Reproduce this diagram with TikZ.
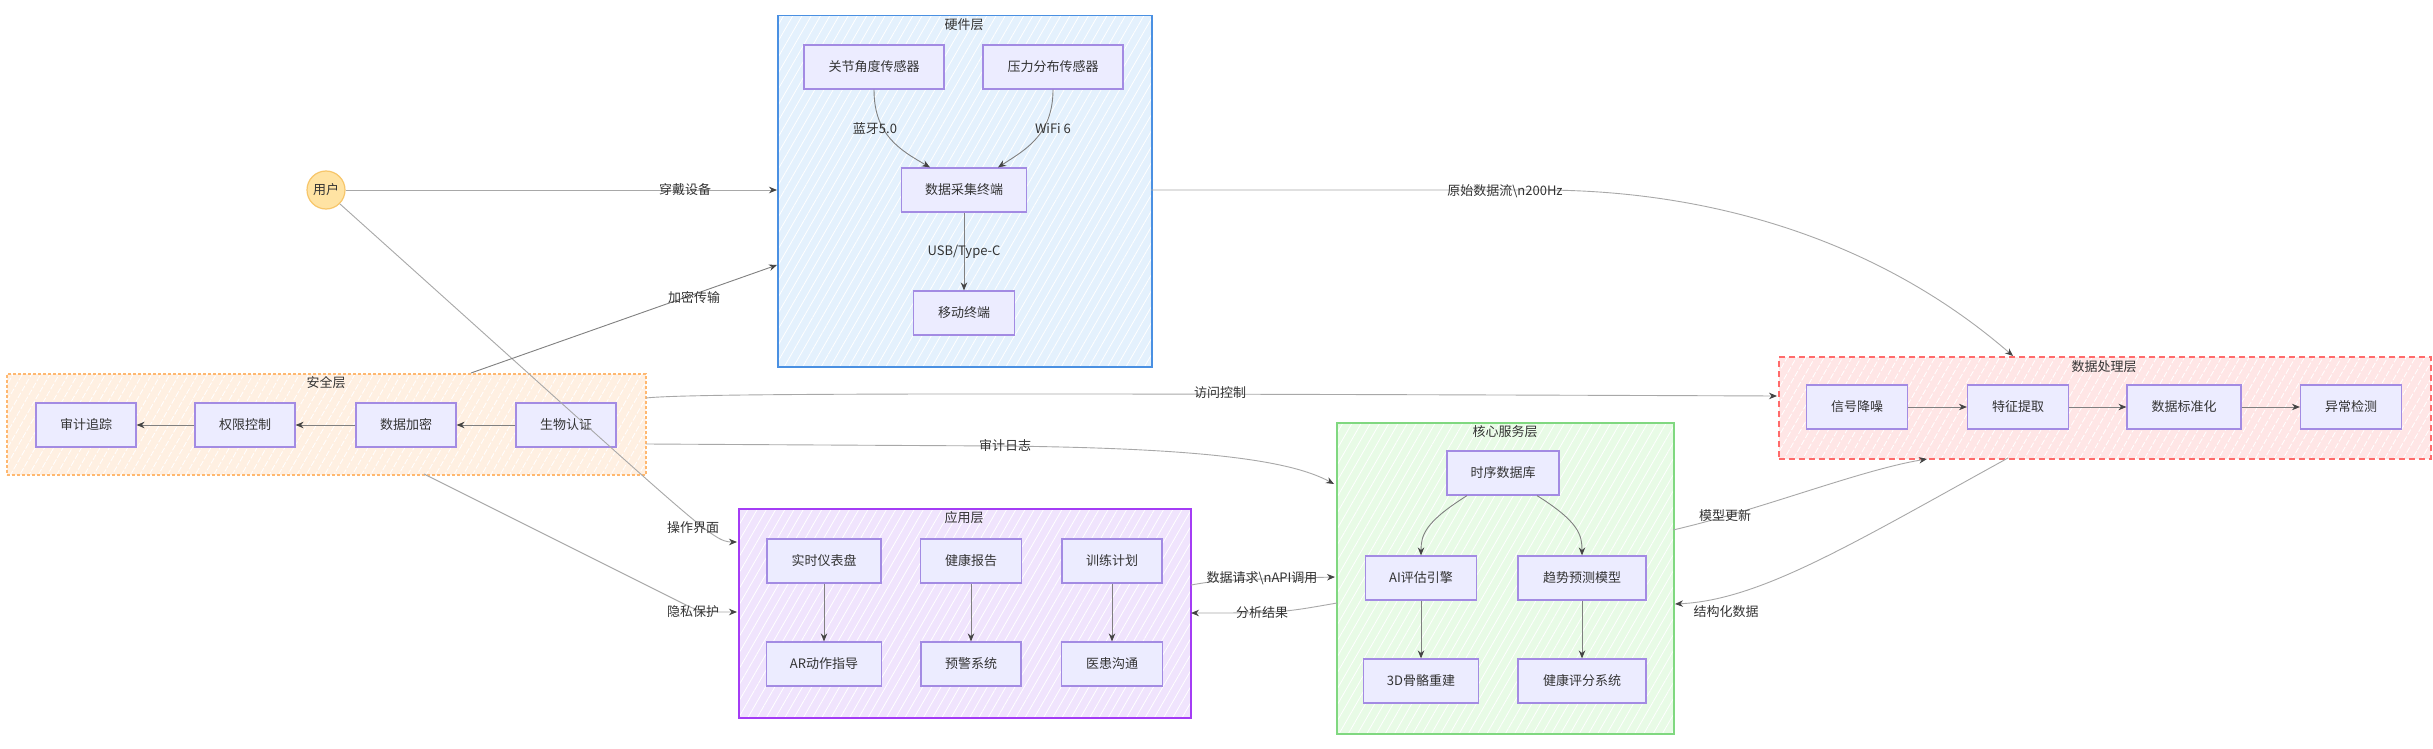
\documentclass[tikz,border=0pt]{standalone}
\usepackage{fontspec}
\setmainfont{Noto Sans CJK SC}
\usetikzlibrary{arrows.meta,patterns.meta}
\definecolor{nodefill}{HTML}{ECECFF}
\definecolor{nodeborder}{HTML}{A38BE3}
\definecolor{textcol}{HTML}{333333}
\definecolor{edgecol}{HTML}{A8A8A8}
\definecolor{iedgecol}{HTML}{808080}
\definecolor{arrowcol}{HTML}{444444}
\definecolor{hwfill}{HTML}{E4F1FD}
\definecolor{hwborder}{HTML}{4A90E2}
\definecolor{secfill}{HTML}{FFF0E2}
\definecolor{secborder}{HTML}{FFB870}
\definecolor{dpfill}{HTML}{FFE6E6}
\definecolor{dpborder}{HTML}{FF6B6B}
\definecolor{corefill}{HTML}{E8FBE6}
\definecolor{coreborder}{HTML}{80D880}
\definecolor{appfill}{HTML}{F0E4FD}
\definecolor{appborder}{HTML}{A43CF5}
\definecolor{userfill}{HTML}{FFE3A3}
\definecolor{userborder}{HTML}{F7C66A}
\begin{document}
\begin{tikzpicture}[x=1pt,y=-1pt,
  font=\fontsize{13}{15}\selectfont,
  box/.style={draw=nodeborder, fill=nodefill, line width=1.2pt, minimum height=44pt, inner sep=0pt, text=textcol},
  cluster/.style n args={2}{line width=1.5pt, inner sep=0pt, anchor=north west,
    preaction={fill=#1},
    preaction={pattern={Lines[angle=60,distance=8pt,line width=0.8pt]}, pattern color=white},
    draw=#2},
  ctitle/.style={text=textcol, inner sep=0pt},
  lbl/.style={text=textcol, inner sep=0pt},
  edge/.style={draw=edgecol, line width=0.9pt, -{Stealth[length=8pt,width=6.5pt,color=arrowcol]}},
  iedge/.style={edge, draw=iedgecol},
]
\useasboundingbox (0,0) rectangle (2433,749);
\fill[white] (0,0) rectangle (2433,749);

% clusters
\node[cluster={hwfill}{hwborder}, minimum width=374pt, minimum height=351pt] (hw) at (777,15) {};
\node[cluster={secfill}{secborder}, dash pattern=on 3pt off 2pt, minimum width=639pt, minimum height=101pt] (sec) at (6,373) {};
\node[cluster={dpfill}{dpborder}, dash pattern=on 6pt off 4pt, minimum width=652pt, minimum height=102pt] (dp) at (1778,356) {};
\node[cluster={corefill}{coreborder}, minimum width=337pt, minimum height=311pt] (core) at (1336,422) {};
\node[cluster={appfill}{appborder}, line width=2pt, minimum width=452pt, minimum height=209pt] (app) at (738,508) {};

\node[ctitle] (hwt) at (964,25) {硬件层};
\node[ctitle] (sect) at (326,383) {安全层};
\node[ctitle] (dpt) at (2104,367) {数据处理层};
\node[ctitle] (coret) at (1505,432) {核心服务层};
\node[ctitle] (appt) at (964,518) {应用层};

% user
\node[circle, draw=userborder, fill=userfill, line width=1.2pt, minimum size=38pt, inner sep=0pt, text=textcol] (user) at (326,190) {用户};

% hardware nodes
\node[box, minimum width=140pt] (jj) at (874,67) {关节角度传感器};
\node[box, minimum width=140pt] (yl) at (1053,67) {压力分布传感器};
\node[box, minimum width=125pt] (cj) at (964,190) {数据采集终端};
\node[box, minimum width=101pt] (yd) at (964,313) {移动终端};

% security nodes
\node[box, minimum width=100pt] (sj) at (86,425) {审计追踪};
\node[box, minimum width=100pt] (qx) at (245,425) {权限控制};
\node[box, minimum width=100pt] (jm) at (406,425) {数据加密};
\node[box, minimum width=100pt] (sw) at (566,425) {生物认证};

% data processing nodes
\node[box, minimum width=101pt] (xh) at (1857,407) {信号降噪};
\node[box, minimum width=101pt] (tz) at (2018,407) {特征提取};
\node[box, minimum width=114pt] (bz) at (2184,407) {数据标准化};
\node[box, minimum width=101pt] (yc) at (2351,407) {异常检测};

% core nodes
\node[box, minimum width=112pt] (sx) at (1503,473) {时序数据库};
\node[box, minimum width=111pt] (ai) at (1421,578) {AI评估引擎};
\node[box, minimum width=128pt] (qs) at (1582,578) {趋势预测模型};
\node[box, minimum width=115pt] (gg) at (1421,681) {3D骨骼重建};
\node[box, minimum width=128pt] (pf) at (1582,681) {健康评分系统};

% app nodes
\node[box, minimum width=114pt] (ss) at (824,561) {实时仪表盘};
\node[box, minimum width=101pt] (jk) at (971,561) {健康报告};
\node[box, minimum width=100pt] (xl) at (1112,561) {训练计划};
\node[box, minimum width=115pt] (ar) at (824,664) {AR动作指导};
\node[box, minimum width=100pt] (yj) at (971,664) {预警系统};
\node[box, minimum width=101pt] (yh) at (1112,664) {医患沟通};

% boundary coordinates
\coordinate (hwIn1) at (777,190);
\coordinate (hwIn2) at (777,265);
\coordinate (hwOut) at (1151,190);
\coordinate (secTop) at (471,373);
\coordinate (secR1) at (646,398);
\coordinate (secR2) at (646,444);
\coordinate (secBot) at (424,474);
\coordinate (dpTop) at (2013,356);
\coordinate (dpL) at (1777,396);
\coordinate (dpB1) at (1927,459);
\coordinate (dpB2) at (2008,458);
\coordinate (coreL1) at (1334,484);
\coordinate (coreL2) at (1335,577);
\coordinate (coreL3) at (1337,603);
\coordinate (coreR1) at (1673,530);
\coordinate (coreR2) at (1675,604);
\coordinate (appL1) at (737,542);
\coordinate (appL2) at (737,612);
\coordinate (appR1) at (1191,585);
\coordinate (appR2) at (1191,613);

% internal edges
\draw[iedge] (jj.south) .. controls (874,135) and (900,150) .. (cj.north -| 930,0);
\draw[iedge] (yl.south) .. controls (1053,135) and (1025,150) .. (cj.north -| 998,0);
\draw[iedge] (cj) -- (yd);
\node[lbl] (l1) at (875,129) {蓝牙5.0};
\node[lbl] (l2) at (1053,129) {WiFi 6};
\node[lbl] (l3) at (964,252) {USB/Type-C};

\draw[iedge] (sw) -- (jm);
\draw[iedge] (jm) -- (qx);
\draw[iedge] (qx) -- (sj);

\draw[iedge] (xh) -- (tz);
\draw[iedge] (tz) -- (bz);
\draw[iedge] (bz) -- (yc);

\draw[iedge] (sx.south -| 1467,0) .. controls (1425,522) and (1421,535) .. (ai.north);
\draw[iedge] (sx.south -| 1537,0) .. controls (1579,522) and (1582,535) .. (qs.north);
\draw[iedge] (ai) -- (gg);
\draw[iedge] (qs) -- (pf);

\draw[iedge] (ss) -- (ar);
\draw[iedge] (jk) -- (yj);
\draw[iedge] (xl) -- (yh);

% cross edges
\draw[edge] (user.east) -- (hwIn1);
\node[lbl] (e1) at (685,190) {穿戴设备};

\draw[edge] (user.-45) .. controls (700,527) and (712,542) .. (appL1);
\node[lbl] (e2) at (693,528) {操作界面};

\draw[edge, draw=iedgecol] (secTop) -- (hwIn2);
\node[lbl] (e3) at (694,297) {加密传输};

\draw[edge] (hwOut) -- (1540,190) .. controls (1720,190) and (1885,245) .. (dpTop);
\node[lbl] (e4) at (1505,191) {原始数据流\textbackslash n200Hz};

\draw[edge] (secR1) .. controls (690,393) and (1000,393) .. (dpL);
\node[lbl] (e5) at (1220,393) {访问控制};

\draw[edge] (secR2) -- (1000,446) .. controls (1200,448) and (1290,460) .. (coreL1);
\node[lbl] (e6) at (1005,446) {审计日志};

\draw[edge] (secBot) -- (680,602) .. controls (700,612) .. (appL2);
\node[lbl] (e7) at (693,612) {隐私保护};

\draw[edge] (appR1) .. controls (1220,580) .. (coreL2);
\node[lbl] (e8) at (1262,578) {数据请求\textbackslash nAPI调用};

\draw[edge] (coreL3) .. controls (1280,613) .. (appR2);
\node[lbl] (e9) at (1262,613) {分析结果};

\draw[edge] (coreR1) .. controls (1760,510) and (1860,470) .. (dpB1);
\node[lbl] (e10) at (1725,516) {模型更新};

\draw[edge] (dpB2) .. controls (1850,545) and (1760,600) .. (coreR2);
\node[lbl] (e11) at (1726,612) {结构化数据};
\end{tikzpicture}
\end{document}
